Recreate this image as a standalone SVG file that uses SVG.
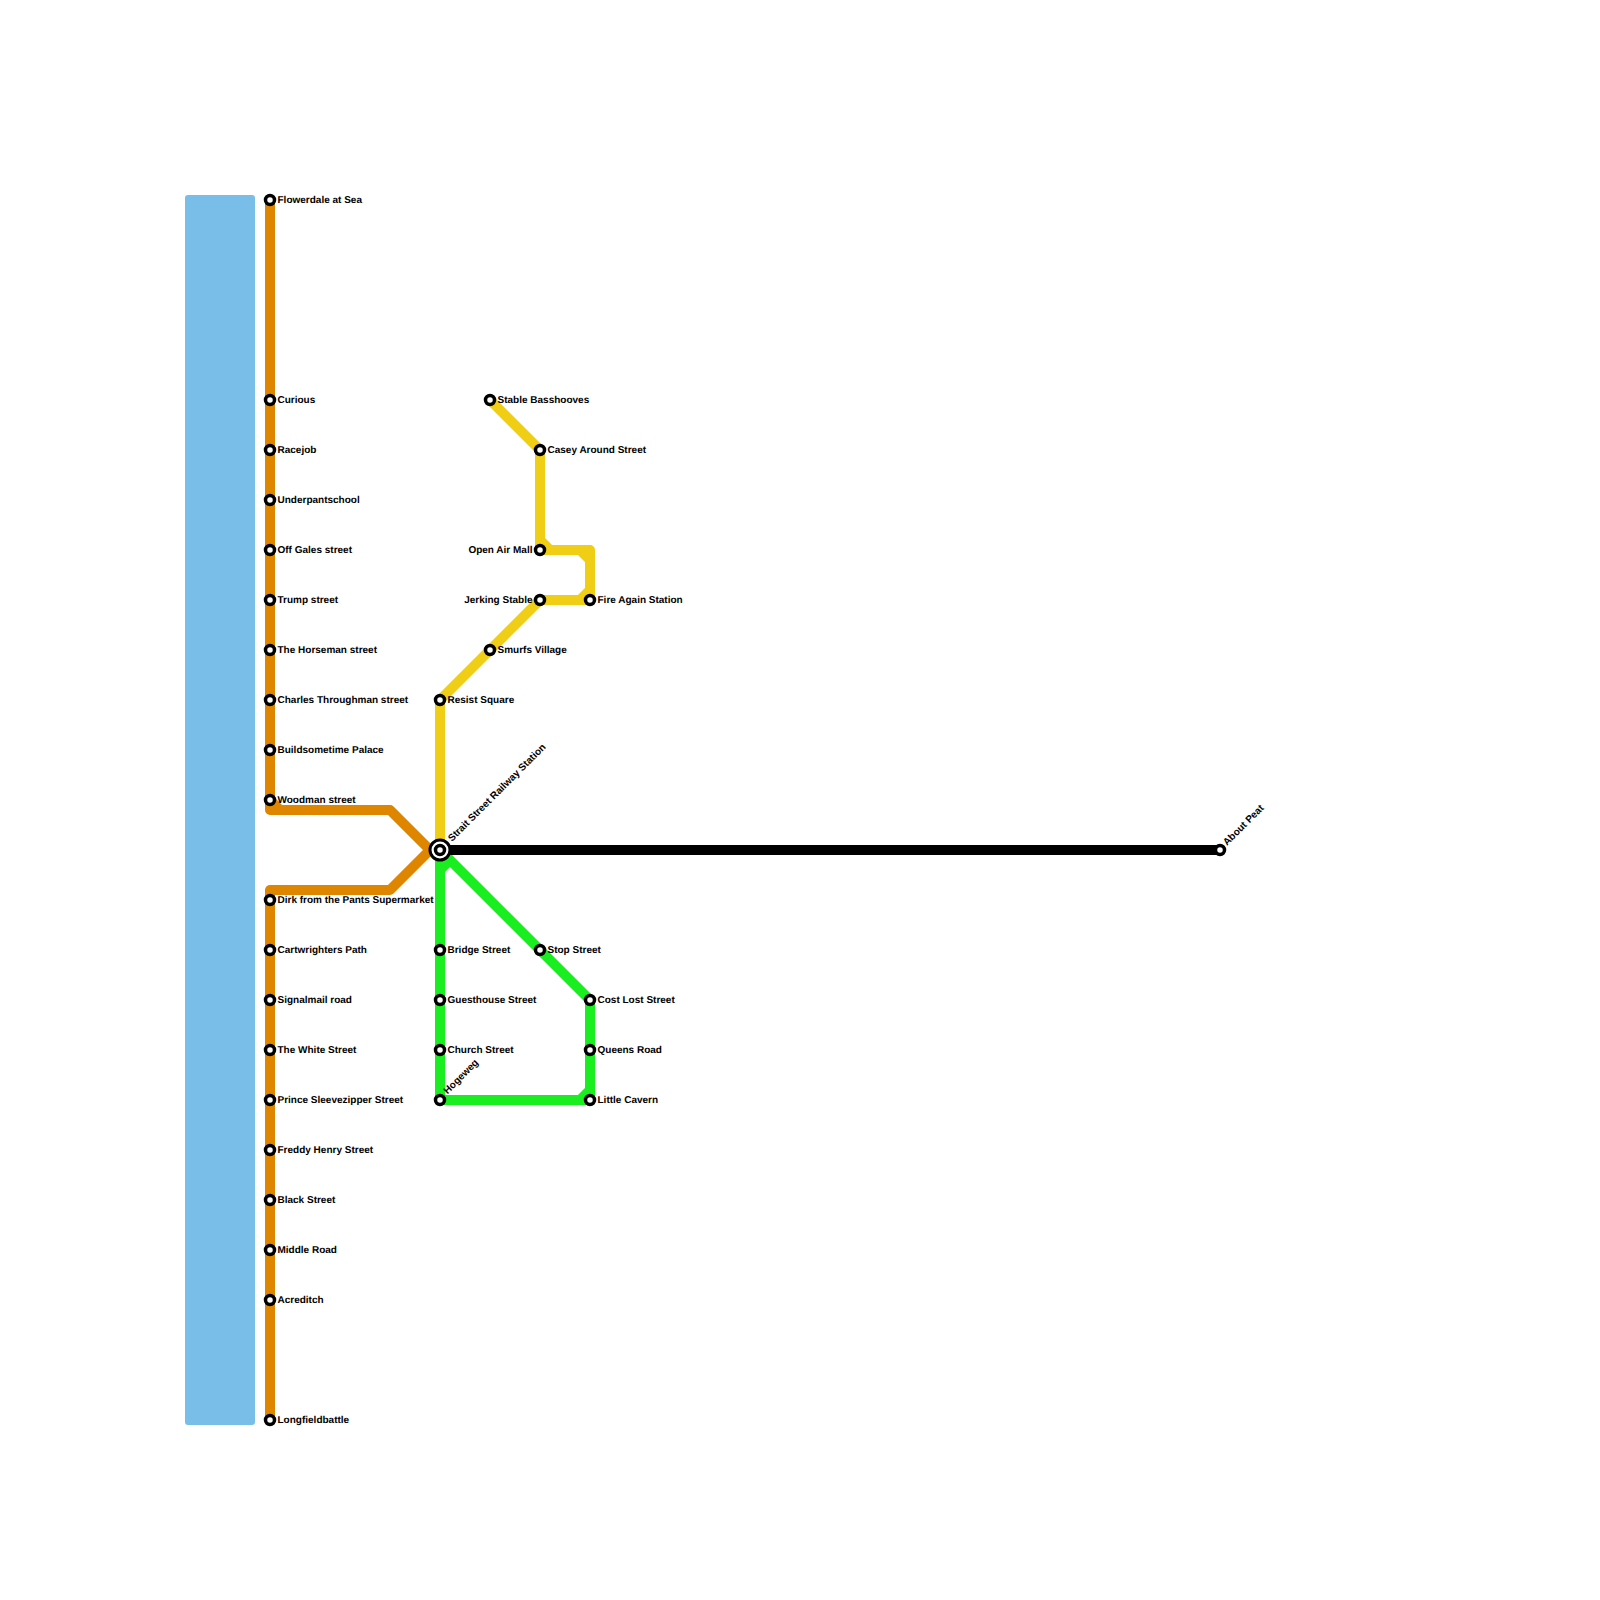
<svg xmlns="http://www.w3.org/2000/svg" width="1600" height="1600" viewBox="0 0 1600 1600">
<style>
.l{fill:none;stroke-width:10;stroke-linejoin:round;stroke-linecap:butt}
.o{stroke:#df8600}.y{stroke:#f0ce15}.g{stroke:#1bee20}.k{stroke:#000}
.s{fill:#fff;stroke:#000;stroke-width:3.500}
text{font-family:"Liberation Sans",Arial,sans-serif;font-size:10px;font-weight:bold;fill:#000;text-rendering:geometricPrecision}
.e{text-anchor:end}
</style>
<rect id="water" x="185" y="195" width="70" height="1230" rx="3" fill="#79bde9"/>
<g id="connectors">
<path class="l o" d="M270 200V810H390L430 850"/>
<path class="l o" d="M270 800L280 810"/>
<path class="l o" d="M270 1420V890H390L430 850"/>
<path class="l y" d="M490 400L540 450V550H590V600H540L440 700V850"/>
<path class="l y" d="M540 540L550 550M580 550L590 560M580 600L590 590"/>
<path class="l g" d="M440 850V1100H590V1000L440 850"/>
<path class="l g" d="M440 870L450 860M580 1100L590 1090"/>
<path class="l k" d="M440 850H1220"/>
</g>
<g id="n1"><circle class="s" cx="270" cy="200" r="4.500"/><text x="277.500" y="202.500">Flowerdale at Sea</text></g>
<g id="n2"><circle class="s" cx="270" cy="400" r="4.500"/><text x="277.500" y="402.500">Curious</text></g>
<g id="n3"><circle class="s" cx="270" cy="450" r="4.500"/><text x="277.500" y="452.500">Racejob</text></g>
<g id="n4"><circle class="s" cx="270" cy="500" r="4.500"/><text x="277.500" y="502.500">Underpantschool</text></g>
<g id="n5"><circle class="s" cx="270" cy="550" r="4.500"/><text x="277.500" y="552.500">Off Gales street</text></g>
<g id="n6"><circle class="s" cx="270" cy="600" r="4.500"/><text x="277.500" y="602.500">Trump street</text></g>
<g id="n7"><circle class="s" cx="270" cy="650" r="4.500"/><text x="277.500" y="652.500">The Horseman street</text></g>
<g id="n8"><circle class="s" cx="270" cy="700" r="4.500"/><text x="277.500" y="702.500">Charles Throughman street</text></g>
<g id="n9"><circle class="s" cx="270" cy="750" r="4.500"/><text x="277.500" y="752.500">Buildsometime Palace</text></g>
<g id="n10"><circle class="s" cx="270" cy="800" r="4.500"/><text x="277.500" y="802.500">Woodman street</text></g>
<g id="n11"><circle class="s" cx="270" cy="900" r="4.500"/><text x="277.500" y="902.500">Dirk from the Pants Supermarket</text></g>
<g id="n12"><circle class="s" cx="270" cy="950" r="4.500"/><text x="277.500" y="952.500">Cartwrighters Path</text></g>
<g id="n13"><circle class="s" cx="270" cy="1000" r="4.500"/><text x="277.500" y="1002.500">Signalmail road</text></g>
<g id="n14"><circle class="s" cx="270" cy="1050" r="4.500"/><text x="277.500" y="1052.500">The White Street</text></g>
<g id="n15"><circle class="s" cx="270" cy="1100" r="4.500"/><text x="277.500" y="1102.500">Prince Sleevezipper Street</text></g>
<g id="n16"><circle class="s" cx="270" cy="1150" r="4.500"/><text x="277.500" y="1152.500">Freddy Henry Street</text></g>
<g id="n17"><circle class="s" cx="270" cy="1200" r="4.500"/><text x="277.500" y="1202.500">Black Street</text></g>
<g id="n18"><circle class="s" cx="270" cy="1250" r="4.500"/><text x="277.500" y="1252.500">Middle Road</text></g>
<g id="n19"><circle class="s" cx="270" cy="1300" r="4.500"/><text x="277.500" y="1302.500">Acreditch</text></g>
<g id="n20"><circle class="s" cx="270" cy="1420" r="4.500"/><text x="277.500" y="1422.500">Longfieldbattle</text></g>
<g id="n21"><circle class="s" cx="490" cy="400" r="4.500"/><text x="497.500" y="402.500">Stable Basshooves</text></g>
<g id="n22"><circle class="s" cx="540" cy="450" r="4.500"/><text x="547.500" y="452.500">Casey Around Street</text></g>
<g id="n23"><circle class="s" cx="540" cy="550" r="4.500"/><text class="e" x="532.500" y="552.500">Open Air Mall</text></g>
<g id="n24"><circle class="s" cx="540" cy="600" r="4.500"/><text class="e" x="532.500" y="602.500">Jerking Stable</text></g>
<g id="n25"><circle class="s" cx="590" cy="600" r="4.500"/><text x="597.500" y="602.500">Fire Again Station</text></g>
<g id="n26"><circle class="s" cx="490" cy="650" r="4.500"/><text x="497.500" y="652.500">Smurfs Village</text></g>
<g id="n27"><circle class="s" cx="440" cy="700" r="4.500"/><text x="447.500" y="702.500">Resist Square</text></g>
<g id="hub"><circle cx="440" cy="850" r="10" fill="#fff" stroke="#000" stroke-width="3"/><circle class="s" cx="440" cy="850" r="4.500"/><text transform="translate(452 842) rotate(-45)">Strait Street Railway Station</text></g>
<g id="n29"><circle class="s" cx="1220" cy="850" r="4.500"/><text transform="translate(1227 846) rotate(-45)">About Peat</text></g>
<g id="n30"><circle class="s" cx="440" cy="950" r="4.500"/><text x="447.500" y="952.500">Bridge Street</text></g>
<g id="n31"><circle class="s" cx="440" cy="1000" r="4.500"/><text x="447.500" y="1002.500">Guesthouse Street</text></g>
<g id="n32"><circle class="s" cx="440" cy="1050" r="4.500"/><text x="447.500" y="1052.500">Church Street</text></g>
<g id="n33"><circle class="s" cx="440" cy="1100" r="4.500"/><text transform="translate(447.500 1094.500) rotate(-45)">Hogeweg</text></g>
<g id="n34"><circle class="s" cx="540" cy="950" r="4.500"/><text x="547.500" y="952.500">Stop Street</text></g>
<g id="n35"><circle class="s" cx="590" cy="1000" r="4.500"/><text x="597.500" y="1002.500">Cost Lost Street</text></g>
<g id="n36"><circle class="s" cx="590" cy="1050" r="4.500"/><text x="597.500" y="1052.500">Queens Road</text></g>
<g id="n37"><circle class="s" cx="590" cy="1100" r="4.500"/><text x="597.500" y="1102.500">Little Cavern</text></g>
</svg>
